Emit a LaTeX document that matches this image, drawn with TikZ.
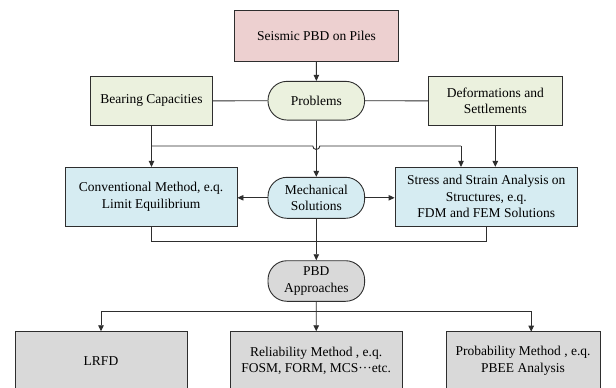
\documentclass[tikz,border=0pt]{standalone}
\usepackage{fontspec}
\setmainfont{Liberation Serif}
\usetikzlibrary{arrows.meta,calc}
\definecolor{pinkfill}{HTML}{EDD0D0}
\definecolor{greenfill}{HTML}{EBF1DE}
\definecolor{bluefill}{HTML}{D6ECF2}
\definecolor{grayfill}{HTML}{D9D9D9}
\definecolor{edge}{HTML}{2E2E2E}
\tikzset{
  box/.style={draw=edge, line width=0.9pt, rectangle, align=center, inner sep=2pt,
    font=\fontsize{13.5}{16.5}\selectfont},
  pill/.style={box, rounded corners=19pt},
  conn/.style={draw=edge, line width=0.9pt},
  arr/.style={conn, -{Triangle[length=6pt,width=5.5pt]}},
}
\begin{document}
\begin{tikzpicture}[x=1pt,y=-1pt]
\useasboundingbox (0,0) rectangle (616,388);
\fill[white] (0,0) rectangle (616,388);
% nodes
\node[box, fill=pinkfill, minimum width=163.8pt, minimum height=50.3pt] (top) at (316.5,35.9) {Seismic PBD on Piles};
\node[box, fill=greenfill, minimum width=121.4pt, minimum height=48.3pt] (bear) at (151.5,100.9) {Bearing Capacities};
\node[pill, fill=greenfill, minimum width=96.6pt, minimum height=38.7pt] (prob) at (316.3,100.7) {Problems};
\node[box, fill=greenfill, minimum width=134pt, minimum height=48.3pt] (def) at (495.3,100.9) {Deformations and\\Settlements};
\node[box, fill=bluefill, minimum width=171.8pt, minimum height=58.7pt] (conv) at (151.1,196.7) {Conventional Method, e.q.\\Limit Equilibrium};
\node[pill, fill=bluefill, minimum width=96.6pt, minimum height=41pt] (mech) at (316.3,197.8) {Mechanical\\Solutions};
\node[box, fill=bluefill, minimum width=182.6pt, minimum height=58.7pt] (stress) at (486.3,196.7) {Stress and Strain Analysis on\\Structures, e.q.\\FDM and FEM Solutions};
\node[pill, fill=grayfill, minimum width=96.6pt, minimum height=40.6pt] (pbd) at (316.3,281) {PBD\\Approaches};
\node[box, fill=grayfill, minimum width=172pt, minimum height=58pt] (lrfd) at (101,360.7) {LRFD};
\node[box, fill=grayfill, minimum width=171.7pt, minimum height=58pt] (rel) at (316.2,360.7) {Reliability Method , e.q.\\FOSM, FORM, MCS···etc.};
\node[box, fill=grayfill, minimum width=154pt, minimum height=58pt] (probm) at (523,360.7) {Probability Method , e.q.\\PBEE Analysis};
% coordinates
\coordinate (j1) at (151.5,146);
\coordinate (j2) at (461,146);
\coordinate (b) at (316.3,241);
\coordinate (split) at (316.3,311.7);
\coordinate (pa) at (531.2,331.7);
% connectors
\draw[arr] (top) -- (prob);
\draw[conn] (bear) -- (prob);
\draw[conn] (prob) -- (def);
\draw[arr] (bear.south) -- (bear.south |- conv.north);
\draw[conn] (j1) -- ($(prob.south |- j1)+(-3.5,0)$) arc[start angle=180,end angle=0,radius=3.5] -- (j2);
\draw[arr] (j2) -- (j2 |- stress.north);
\draw[arr] (def.south) -- (def.south |- stress.north);
\draw[arr] (prob) -- (mech);
\draw[arr] (mech.west) -- (mech.west -| conv.east);
\draw[arr] (mech.east) -- (mech.east -| stress.west);
\draw[conn] (conv.south) -- (conv.south |- b) -- (stress.south |- b) -- (stress.south);
\draw[arr] (mech) -- (pbd);
\draw[arr] (pbd) -- (rel);
\draw[arr] (split) -| (lrfd.north);
\draw[arr] (split) -| (pa);
\end{tikzpicture}
\end{document}
